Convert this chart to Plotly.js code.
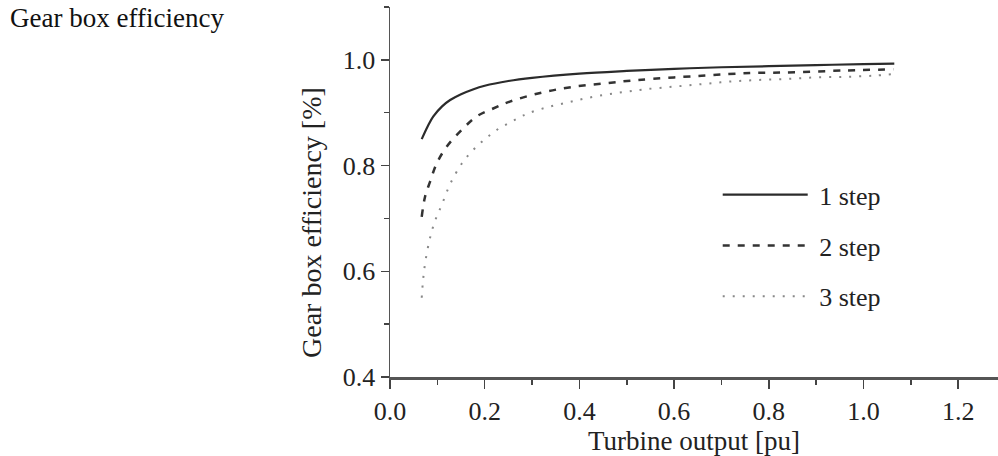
<!DOCTYPE html>
<html>
<head>
<meta charset="utf-8">
<script src="https://cdn.plot.ly/plotly-3.0.1.min.js"></script>
<style>html,body{margin:0;padding:0;background:#fff;}#chart{width:998px;height:456px;}</style>
</head>
<body>
<div id="chart"></div>
<script>
// Turbine output [pu] and gear box efficiency
var step1X = [0.067, 0.080, 0.0915, 0.110, 0.127, 0.150, 0.175, 0.200, 0.250, 0.300, 0.400, 0.500, 0.600, 0.700, 0.800, 0.900, 1.000, 1.065];
var step1Y = [0.850, 0.875, 0.893, 0.912, 0.924, 0.935, 0.944, 0.951, 0.960, 0.966, 0.974, 0.979, 0.983, 0.986, 0.988, 0.990, 0.992, 0.993];

var step2X = [0.067, 0.074, 0.0845, 0.0986, 0.120, 0.151, 0.183, 0.218, 0.253, 0.320, 0.387, 0.458, 0.524, 0.658, 0.760, 0.831, 0.964, 1.063];
var step2Y = [0.703, 0.741, 0.769, 0.804, 0.836, 0.867, 0.893, 0.908, 0.921, 0.938, 0.949, 0.956, 0.962, 0.970, 0.975, 0.976, 0.980, 0.982];

var step3X = [0.067, 0.070, 0.075, 0.085, 0.095, 0.109, 0.127, 0.151, 0.169, 0.190, 0.210, 0.230, 0.250, 0.271, 0.292, 0.331, 0.373, 0.412, 0.454, 0.493, 0.535, 0.595, 0.658, 0.718, 0.778, 0.841, 0.901, 0.964, 1.021, 1.063];
var step3Y = [0.550, 0.585, 0.620, 0.665, 0.695, 0.725, 0.765, 0.803, 0.823, 0.842, 0.857, 0.870, 0.880, 0.890, 0.899, 0.910, 0.919, 0.927, 0.934, 0.939, 0.944, 0.949, 0.954, 0.959, 0.962, 0.964, 0.967, 0.968, 0.970, 0.973];

var seriesNames = ['1 step', '2 step', '3 step'];

var FONT = 'Liberation Serif, Times New Roman, serif';

var traces = [
  {x: step1X, y: step1Y, name: '\u00a0' + seriesNames[0], legendgroup: 'g1', mode: 'lines',
   line: {color: '#2b2b2b', width: 2.2, shape: 'spline', smoothing: 1}},
  {x: step2X, y: step2Y, name: '\u00a0' + seriesNames[1], legendgroup: 'g2', mode: 'lines',
   line: {color: '#333333', width: 2.5, dash: '7px,8px', shape: 'spline', smoothing: 1}},
  {x: step3X, y: step3Y, name: '\u00a0' + seriesNames[2], legendgroup: 'g3', mode: 'lines',
   line: {color: '#888888', width: 2, dash: '2px,8px', shape: 'spline', smoothing: 1}}
];

var layout = {
  width: 998, height: 456,
  margin: {l: 390, r: 0, t: 7, b: 79, pad: 0},
  paper_bgcolor: '#ffffff', plot_bgcolor: '#ffffff',
  font: {family: FONT, size: 26, color: '#222222'},
  title: {text: 'Gear box efficiency', x: 10/998, xref: 'container', xanchor: 'left',
          y: 1 - 18/456, yref: 'container', yanchor: 'middle',
          font: {family: FONT, size: 27, color: '#111111'}},
  showlegend: true,
  legend: {x: 0.539, y: 0.556, xanchor: 'left', yanchor: 'top',
           itemwidth: 85, tracegroupgap: 14, bgcolor: 'rgba(0,0,0,0)',
           font: {family: FONT, size: 26, color: '#222222'}},
  xaxis: {range: [0, 1.284], dtick: 0.2, tick0: 0, tickformat: '.1f',
          showgrid: false, zeroline: false, showline: true, linecolor: '#555555', linewidth: 2.5,
          ticks: 'outside', ticklen: 9, tickwidth: 1.5, tickcolor: '#444444',
          minor: {dtick: 0.1, ticks: 'outside', ticklen: 5, tickwidth: 1.5, tickcolor: '#444444', showgrid: false},
          tickfont: {family: FONT, size: 26, color: '#222222'},
          title: {text: 'Turbine output [pu]', standoff: 4, font: {family: FONT, size: 27, color: '#222222'}}},
  yaxis: {range: [0.4, 1.1], dtick: 0.2, tick0: 0.4, tickformat: '.1f',
          showgrid: false, zeroline: false, showline: true, linecolor: '#555555', linewidth: 1.5,
          ticks: 'outside', ticklen: 8, tickwidth: 1.5, tickcolor: '#444444',
          minor: {dtick: 0.1, ticks: 'outside', ticklen: 5, tickwidth: 1.5, tickcolor: '#444444', showgrid: false},
          tickfont: {family: FONT, size: 26, color: '#222222'}},
  annotations: [
    {text: 'Gear box efficiency [%]', xref: 'paper', yref: 'paper',
     x: (311 - 390) / 608, y: (377 - 223) / 370, xanchor: 'center', yanchor: 'middle',
     textangle: -90, showarrow: false, font: {family: FONT, size: 28, color: '#222222'}}
  ]
};

Plotly.newPlot('chart', traces, layout, {displayModeBar: false, staticPlot: true});
</script>
</body>
</html>
